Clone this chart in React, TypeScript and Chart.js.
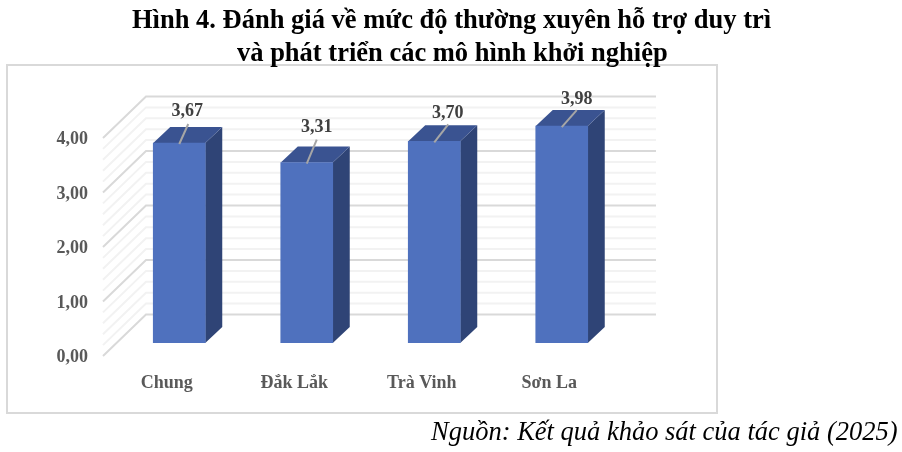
import React, { useEffect, useRef } from "react";
import { Chart, registerables } from "chart.js";

Chart.register(...registerables);

const titleLines = [
  "Hình 4. Đánh giá về mức độ thường xuyên hỗ trợ duy trì",
  "và phát triển các mô hình khởi nghiệp",
];
const sourceText = "Nguồn: Kết quả khảo sát của tác giả (2025)";
const categories = ["Chung", "Đắk Lắk", "Trà Vinh", "Sơn La"];
const values = [3.67, 3.31, 3.7, 3.98];
const valueLabels = ["3,67", "3,31", "3,70", "3,98"];

const SERIF = '"Liberation Serif", "Times New Roman", serif';
const BAR_SHIFT = { x: 12.5, y: -13 };
const BAR_DEPTH = { x: 17, y: -16 };
const WALL = { x: 43, y: -41.5 };
const LEADERS = [
  { lx: 9, ly: -19, tx: 8, ty: -31.5 },
  { lx: 10, ly: -23, tx: 10, ty: -35 },
  { lx: 14, ly: -17, tx: 13.5, ty: -28 },
  { lx: 15, ly: -16, tx: 15, ty: -27 },
];

const wallPlugin = {
  id: "wall",
  beforeDatasetsDraw(chart: any) {
    const { ctx, chartArea, scales } = chart;
    const y = scales.y;
    ctx.save();
    y.ticks.forEach((t: any) => {
      const major = Math.abs(t.value - Math.round(t.value)) < 1e-6;
      const py = y.getPixelForValue(t.value);
      ctx.beginPath();
      ctx.moveTo(chartArea.left, py);
      ctx.lineTo(chartArea.left + WALL.x, py + WALL.y);
      ctx.lineTo(chartArea.right + WALL.x, py + WALL.y);
      ctx.strokeStyle = major ? "#d9d9d9" : "#f2f2f2";
      ctx.lineWidth = 2;
      ctx.stroke();
    });
    ctx.restore();
  },
};

const barsPlugin = {
  id: "bars3d",
  beforeDatasetDraw(chart: any) {
    const { ctx } = chart;
    const bars = chart.getDatasetMeta(0).data;
    ctx.save();
    ctx.translate(BAR_SHIFT.x, BAR_SHIFT.y);
    bars.forEach((bar: any) => {
      const p = bar.getProps(["x", "y", "base", "width"], true);
      const l = p.x - p.width / 2;
      const r = p.x + p.width / 2;
      ctx.fillStyle = "#2f4476";
      ctx.beginPath();
      ctx.moveTo(r, p.y);
      ctx.lineTo(r + BAR_DEPTH.x, p.y + BAR_DEPTH.y);
      ctx.lineTo(r + BAR_DEPTH.x, p.base + BAR_DEPTH.y);
      ctx.lineTo(r, p.base);
      ctx.closePath();
      ctx.fill();
      ctx.fillStyle = "#3a5391";
      ctx.beginPath();
      ctx.moveTo(l, p.y);
      ctx.lineTo(l + BAR_DEPTH.x, p.y + BAR_DEPTH.y);
      ctx.lineTo(r + BAR_DEPTH.x, p.y + BAR_DEPTH.y);
      ctx.lineTo(r, p.y);
      ctx.closePath();
      ctx.fill();
    });
  },
  afterDatasetDraw(chart: any) {
    const { ctx } = chart;
    const bars = chart.getDatasetMeta(0).data;
    bars.forEach((bar: any, i: number) => {
      const p = bar.getProps(["x", "y"], true);
      const o = LEADERS[i];
      ctx.beginPath();
      ctx.moveTo(p.x, p.y + 1);
      ctx.lineTo(p.x + o.lx, p.y + o.ly);
      ctx.strokeStyle = "#a6a6a6";
      ctx.lineWidth = 2;
      ctx.stroke();
      ctx.fillStyle = "#404040";
      ctx.font = `bold 18px ${SERIF}`;
      ctx.textAlign = "center";
      ctx.textBaseline = "middle";
      ctx.fillText(valueLabels[i], p.x + o.tx, p.y + o.ty);
    });
    ctx.restore();
  },
};

export default function App() {
  const ref = useRef<HTMLCanvasElement>(null);

  useEffect(() => {
    const chart = new Chart(ref.current!, {
      type: "bar",
      data: {
        labels: categories,
        datasets: [
          {
            data: values,
            backgroundColor: "#4f71be",
            barThickness: 52,
            borderWidth: 0,
          },
        ],
      },
      options: {
        animation: false,
        responsive: false,
        devicePixelRatio: 1,
        layout: { padding: { left: 43, top: 138, right: 289, bottom: 56 } },
        plugins: {
          legend: { display: false },
          tooltip: { enabled: false },
          title: { display: false },
        },
        scales: {
          x: {
            afterFit: (s: any) => {
              s.height = 40;
            },
            grid: { display: false, drawTicks: false },
            border: { display: false },
            ticks: {
              color: "#595959",
              padding: 17,
              maxRotation: 0,
              font: { family: SERIF, size: 18, weight: "bold" },
            },
          },
          y: {
            min: 0,
            max: 4,
            afterFit: (s: any) => {
              s.width = 60;
            },
            grid: { display: false, drawTicks: false },
            border: { display: false },
            ticks: {
              stepSize: 0.2,
              autoSkip: false,
              padding: 15,
              labelOffset: 1.5,
              color: "#595959",
              font: { family: SERIF, size: 18, weight: "bold" },
              callback: (v: any) => {
                const n = Number(v);
                return Math.abs(n - Math.round(n)) < 1e-6 ? n.toFixed(2).replace(".", ",") : "";
              },
            },
          },
        },
      },
      plugins: [wallPlugin, barsPlugin],
    } as any);
    return () => chart.destroy();
  }, []);

  const text: React.CSSProperties = {
    position: "absolute",
    whiteSpace: "nowrap",
    fontFamily: SERIF,
    color: "#000",
    lineHeight: 1,
    fontSize: 26.5,
  };

  return (
    <div style={{ position: "relative", width: 902, height: 452, background: "#fff", overflow: "hidden" }}>
      <style>{"html,body{margin:0;padding:0;background:#fff}"}</style>
      <div
        style={{
          position: "absolute",
          left: 6,
          top: 64,
          width: 708,
          height: 346,
          border: "2px solid #d9d9d9",
        }}
      />
      <canvas
        ref={ref}
        width={902}
        height={452}
        style={{ position: "absolute", left: 0, top: 0, width: 902, height: 452 }}
      />
      <div style={{ ...text, left: 132, top: 6, fontWeight: "bold" }}>{titleLines[0]}</div>
      <div style={{ ...text, left: 237, top: 39, fontWeight: "bold" }}>{titleLines[1]}</div>
      <div style={{ ...text, left: 431, top: 417.5, fontStyle: "italic" }}>{sourceText}</div>
    </div>
  );
}
